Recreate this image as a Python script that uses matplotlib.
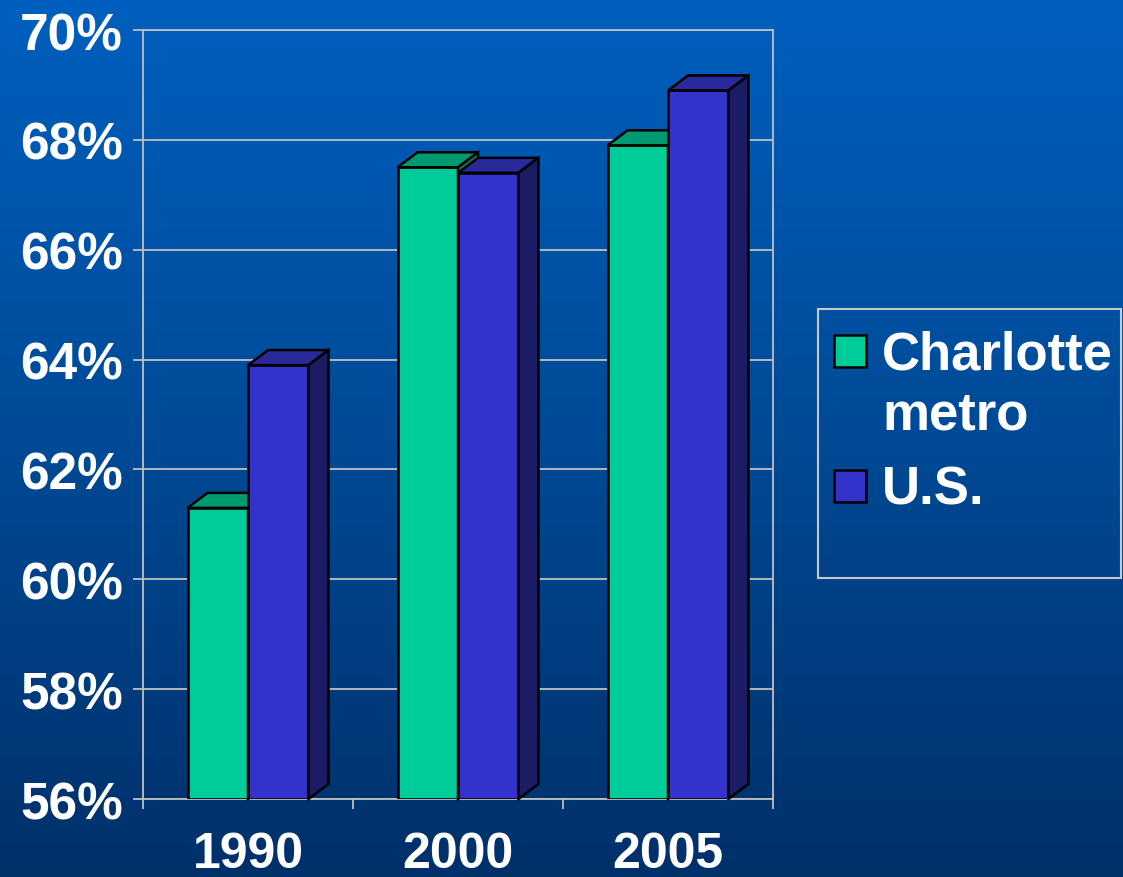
import numpy as np
import matplotlib
matplotlib.use("Agg")
import matplotlib.pyplot as plt
from matplotlib.patches import Polygon, Rectangle
from matplotlib.colors import LinearSegmentedColormap

# Data
years = ["1990", "2000", "2005"]
charlotte = [61.3, 67.5, 67.9]
us = [63.9, 67.4, 68.9]
series_names = ["Charlotte\nmetro", "U.S."]
y_ticks = [56, 58, 60, 62, 64, 66, 68, 70]

plt.rcParams["font.family"] = ["Liberation Sans", "DejaVu Sans"]

W, H = 1123, 878
fig = plt.figure(figsize=(W / 100, H / 100), dpi=100)

# Vertical blue gradient background
bg = fig.add_axes([0, 0, 1, 1], zorder=-10)
grad = np.linspace(0, 1, 256).reshape(-1, 1)
cmap = LinearSegmentedColormap.from_list("bg", ["#005FBF", "#004A96", "#00306A"])
bg.imshow(grad, aspect="auto", cmap=cmap, extent=[0, 1, 0, 1], origin="upper")
bg.set_axis_off()

# Plot area in pixel coordinates
x0, x1, ytop, ybot = 143, 773, 31, 800
ax = fig.add_axes([x0 / W, 1 - ybot / H, (x1 - x0) / W, (ybot - ytop) / H])
ax.patch.set_alpha(0)
ax.set_xlim(0, 3)
ax.set_ylim(56, 70)

grid_c = "#C0C0C0"
for s in ["left", "right", "top", "bottom"]:
    ax.spines[s].set_color(grid_c)
    ax.spines[s].set_linewidth(1.3)
ax.set_yticks(y_ticks)
ax.set_yticklabels([f"{v}%" for v in y_ticks])
ax.yaxis.grid(True, color=grid_c, linewidth=1.3)
ax.set_axisbelow(True)
ax.tick_params(axis="y", length=7.5, width=1.3, color=grid_c, pad=7,
               labelsize=37, labelcolor="white")
for lab in ax.get_yticklabels():
    lab.set_fontweight("bold")

ax.set_xticks([0, 1, 2, 3], minor=False)
ax.set_xticklabels([])
ax.tick_params(axis="x", which="major", length=7.5, width=1.3, color=grid_c)
centers = np.arange(len(years)) + 0.5
ax.set_xticks(centers, minor=True)
ax.set_xticklabels(years, minor=True)
ax.tick_params(axis="x", which="minor", length=0, pad=23, labelsize=36,
               labelcolor="white")
for lab in ax.get_xticklabels(minor=True):
    lab.set_fontweight("bold")

# 3D-style columns
bw = 0.288
dx = 20 / 210
dy = 15 / ((ybot - ytop) / 14)
base = 56

def column(xl, val, front, top, side, z):
    ax.bar(xl, val - base, bottom=base, width=bw, align="edge", color=front,
           edgecolor="black", linewidth=1.8, zorder=z)
    xr = xl + bw
    ax.add_patch(Polygon([(xl, val), (xl + dx, val + dy), (xr + dx, val + dy), (xr, val)],
                         closed=True, facecolor=top, edgecolor="black",
                         linewidth=1.8, zorder=z, clip_on=False))
    ax.add_patch(Polygon([(xr, base), (xr, val), (xr + dx, val + dy), (xr + dx, base + dy)],
                         closed=True, facecolor=side, edgecolor="black",
                         linewidth=1.8, zorder=z, clip_on=False))

for i, c in enumerate(centers):
    column(c - bw, charlotte[i], "#00CC99", "#009A72", "#00805E", 3)
    column(c, us[i], "#3333CC", "#29299C", "#1C1B66", 4)

# Legend box
def fx(px):
    return px / W

def fy(py):
    return 1 - py / H

fig.patches.append(Rectangle((fx(818), fy(579)), fx(1121) - fx(818), fy(310) - fy(579),
                             transform=fig.transFigure, facecolor="none",
                             edgecolor="#C8C8C8", linewidth=1.5))
fig.patches.append(Rectangle((fx(834), fy(368)), 32 / W, 32 / H,
                             transform=fig.transFigure, facecolor="#00CC99",
                             edgecolor="black", linewidth=1.8))
fig.patches.append(Rectangle((fx(834), fy(503)), 32 / W, 32 / H,
                             transform=fig.transFigure, facecolor="#3333CC",
                             edgecolor="black", linewidth=1.8))
name_lines = series_names[0].split("\n")
fig.text(fx(882), fy(370), name_lines[0], color="white", fontsize=38,
         fontweight="bold", va="baseline", ha="left")
fig.text(fx(882), fy(430), name_lines[1], color="white", fontsize=38,
         fontweight="bold", va="baseline", ha="left")
fig.text(fx(882), fy(505), series_names[1], color="white", fontsize=38,
         fontweight="bold", va="baseline", ha="left")

fig.savefig("out.png", dpi=100)
